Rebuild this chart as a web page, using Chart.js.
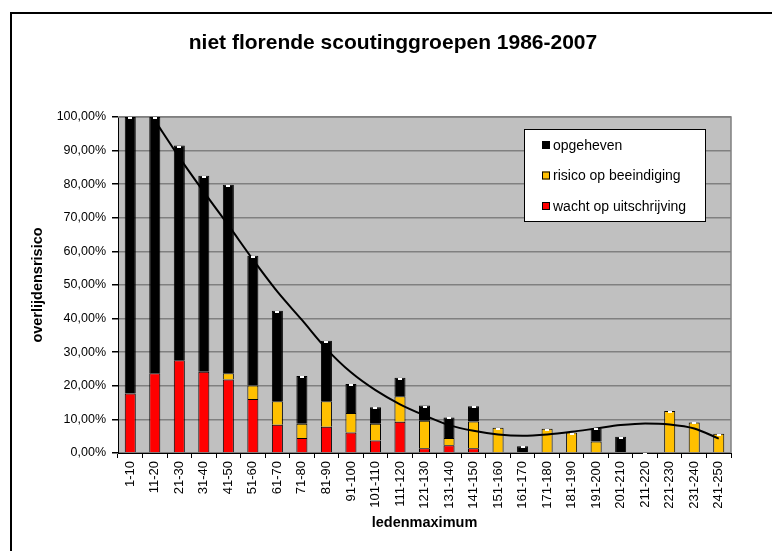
<!DOCTYPE html>
<html lang="nl">
<head>
  <meta charset="UTF-8">
  <title>niet florende scoutinggroepen 1986-2007</title>
  <script src="https://cdn.jsdelivr.net/npm/chart.js"></script>
  <style>
    body {
      margin: 0;
      background: #fff;
      overflow: hidden;
    }
    .frame {
      position: absolute;
      left: 10px;
      top: 12px;
      width: 900px;
      height: 700px;
      border-left: 2px solid #000;
      border-top: 2px solid #000;
    }
    #chart {
      position: absolute;
      left: 0;
      top: 0;
    }
  </style>
</head>
<body>
  <div class="frame"></div>
  <canvas id="chart" width="772" height="551"></canvas>

  <script>
    // ledenmaximum classes
    const labels = ['1-10', '11-20', '21-30', '31-40', '41-50', '51-60', '61-70', '71-80', '81-90', '91-100',
      '101-110', '111-120', '121-130', '131-140', '141-150', '151-160', '161-170', '171-180', '181-190',
      '191-200', '201-210', '211-220', '221-230', '231-240', '241-250'];

    // stacked segments in percent
    const wachtOpUitschrijving = [17.7, 23.7, 27.6, 24.2, 21.9, 16.1, 8.4, 4.5, 7.8, 6.1,
      3.7, 9.3, 1.4, 2.3, 1.4, null, null, null, null, null, null, null, null, null, null];
    const risicoOpBeeindiging = [null, null, null, null, 1.8, 4.0, 7.0, 4.2, 7.6, 5.8,
      5.0, 7.6, 8.2, 2.2, 8.0, 7.5, null, 7.2, 6.1, 3.4, null, null, 12.5, 9.1, 5.7];
    const opgeheven = [82.3, 76.3, 63.9, 58.3, 56.1, 38.6, 26.9, 14.2, 18.0, 8.6,
      4.9, 5.5, 4.5, 6.1, 4.5, null, 2.0, null, null, 3.9, 4.8, null, null, null, null];

    // trend line (polynomial) as drawn in the picture
    const trend = [null, 99, 88, 77.7, 67.8, 57.6, 48, 39.6, 31, 24,
      18.7, 14.5, 11.2, 8.3, 6.6, 5.5, 5.1, 5.5, 6.3, 7.3, 8.3, 8.8, 8.5, 7.3, 4.3];

    const fontFamily = "'Liberation Sans', Arial, sans-serif";

    const seriesColors = {
      wacht: '#FF0000',
      risico: '#FFC000',
      opgeheven: '#000000'
    };

    // grey plot area with its frame
    const plotBackground = {
      id: 'plotBackground',
      beforeDraw(chart) {
        const { ctx, chartArea: a } = chart;
        ctx.save();
        ctx.fillStyle = '#C0C0C0';
        ctx.fillRect(a.left, a.top, a.right - a.left, a.bottom - a.top);
        ctx.restore();
      },
      beforeDatasetsDraw(chart) {
        const { ctx, chartArea: a } = chart;
        ctx.save();
        ctx.strokeStyle = '#808080';
        ctx.lineWidth = 1.5;
        ctx.beginPath();
        ctx.moveTo(a.left, a.top);
        ctx.lineTo(a.right, a.top);
        ctx.lineTo(a.right, a.bottom);
        ctx.stroke();
        ctx.restore();
      }
    };

    // the title sits a bit left of the plot centre in the original
    const titlePlace = {
      id: 'titlePlace',
      afterLayout(chart) {
        if (chart.titleBlock) {
          chart.titleBlock.left = 54;
          chart.titleBlock.right = 732;
        }
      }
    };

    // little white caps on top of every stacked bar
    const barCaps = {
      id: 'barCaps',
      afterDatasetsDraw(chart) {
        const { ctx } = chart;
        const y = chart.scales.y;
        const meta = chart.getDatasetMeta(1);
        ctx.save();
        ctx.fillStyle = '#FFFFFF';
        labels.forEach((_, i) => {
          const sum = (wachtOpUitschrijving[i] || 0) + (risicoOpBeeindiging[i] || 0) + (opgeheven[i] || 0);
          const x = meta.data[i].x;
          const py = y.getPixelForValue(sum);
          ctx.fillRect(Math.round(x) - 2, Math.round(py), 4, 2);
        });
        ctx.restore();
      }
    };

    // legend box inside the plot, like the Excel original
    const boxLegend = {
      id: 'boxLegend',
      afterDraw(chart) {
        const { ctx } = chart;
        const entries = [
          ['opgeheven', seriesColors.opgeheven],
          ['risico op beeindiging', seriesColors.risico],
          ['wacht op uitschrijving', seriesColors.wacht]
        ];
        ctx.save();
        ctx.fillStyle = '#FFFFFF';
        ctx.fillRect(524, 129, 181, 92);
        ctx.strokeStyle = '#000';
        ctx.lineWidth = 1;
        ctx.strokeRect(524.5, 129.5, 181, 92);
        ctx.font = '14px ' + fontFamily;
        ctx.textBaseline = 'middle';
        entries.forEach(([text, color], i) => {
          const cy = 145 + i * 30.5;
          ctx.fillStyle = color;
          ctx.fillRect(542, cy - 4, 8, 8);
          ctx.strokeStyle = '#000';
          ctx.strokeRect(542.5, cy - 3.5, 7, 7);
          ctx.fillStyle = '#000';
          ctx.fillText(text, 553, cy + 1);
        });
        ctx.restore();
      }
    };

    const ctx = document.getElementById('chart').getContext('2d');

    const chart = new Chart(ctx, {
      type: 'bar',
      data: {
        labels: labels,
        datasets: [
          {
            type: 'line',
            label: 'trend',
            data: trend,
            borderColor: '#000',
            borderWidth: 2,
            pointRadius: 0,
            cubicInterpolationMode: 'monotone',
            fill: false,
            stack: 'trend',
            order: -1
          },
          {
            label: 'wacht op uitschrijving',
            data: wachtOpUitschrijving,
            backgroundColor: seriesColors.wacht,
            borderColor: '#000',
            borderWidth: 1,
            stack: 'bars'
          },
          {
            label: 'risico op beeindiging',
            data: risicoOpBeeindiging,
            backgroundColor: seriesColors.risico,
            borderColor: '#000',
            borderWidth: 1,
            stack: 'bars'
          },
          {
            label: 'opgeheven',
            data: opgeheven,
            backgroundColor: seriesColors.opgeheven,
            borderColor: '#000',
            borderWidth: 1,
            stack: 'bars'
          }
        ]
      },
      options: {
        responsive: false,
        animation: false,
        devicePixelRatio: 1,
        layout: {
          padding: { left: 0, right: 41, top: 0, bottom: 0 }
        },
        datasets: {
          bar: {
            categoryPercentage: 1,
            barPercentage: 0.45
          }
        },
        plugins: {
          legend: { display: false },
          tooltip: { enabled: false },
          title: {
            display: true,
            text: 'niet florende scoutinggroepen 1986-2007',
            color: '#000',
            font: { family: fontFamily, size: 21, weight: 'bold', lineHeight: 1.2 },
            padding: { top: 31, bottom: 60.8 }
          }
        },
        scales: {
          x: {
            stacked: true,
            grid: {
              offset: true,
              drawOnChartArea: false,
              drawTicks: true,
              tickLength: 5,
              color: '#000'
            },
            border: { color: '#000', width: 1 },
            ticks: {
              color: '#000',
              font: { family: fontFamily, size: 13 },
              minRotation: 90,
              maxRotation: 90,
              autoSkip: false,
              padding: 3
            },
            title: {
              display: true,
              text: 'ledenmaximum',
              color: '#000',
              font: { family: fontFamily, size: 14.5, weight: 'bold', lineHeight: 1.2 },
              padding: { top: 0, bottom: 19 }
            },
            afterFit(scale) {
              scale.height = 98;
            }
          },
          y: {
            stacked: true,
            min: 0,
            max: 100,
            grid: {
              color: '#808080',
              tickColor: '#000',
              tickLength: 6,
              lineWidth: 1.5
            },
            border: { color: '#000', width: 1 },
            ticks: {
              stepSize: 10,
              color: '#000',
              font: { family: fontFamily, size: 12.5 },
              padding: 6,
              callback: v => v.toFixed(2).replace('.', ',') + '%'
            },
            title: {
              display: true,
              text: 'overlijdensrisico',
              color: '#000',
              font: { family: fontFamily, size: 14.5, weight: 'bold', lineHeight: 1.2 },
              padding: { top: 29, bottom: 0 }
            },
            afterFit(scale) {
              scale.width = 118;
            }
          }
        }
      },
      plugins: [plotBackground, titlePlace, barCaps, boxLegend]
    });
  </script>
</body>
</html>
